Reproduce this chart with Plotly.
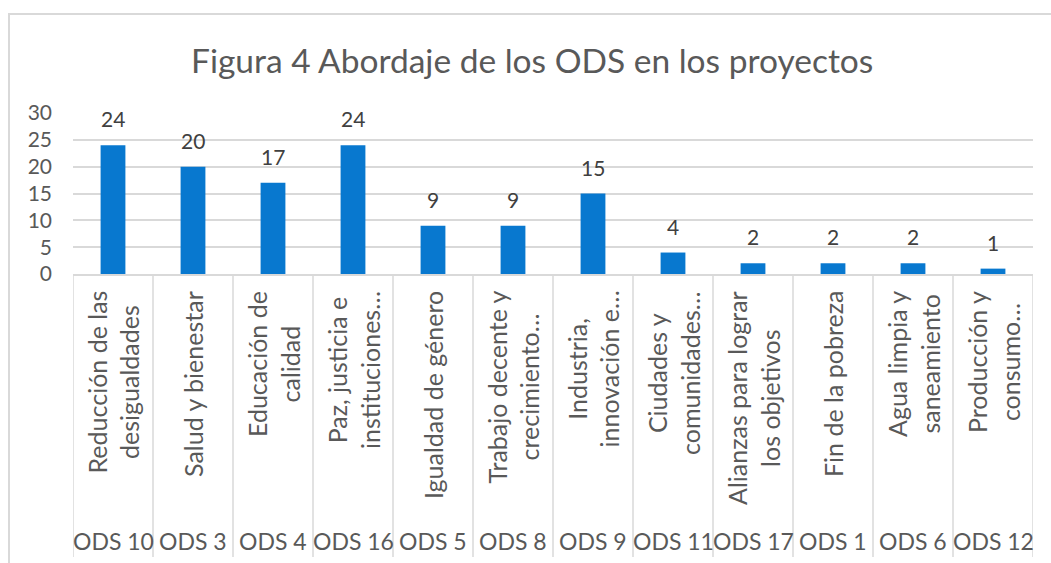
import plotly.graph_objects as go

codes = ["ODS 10", "ODS 3", "ODS 4", "ODS 16", "ODS 5", "ODS 8",
         "ODS 9", "ODS 11", "ODS 17", "ODS 1", "ODS 6", "ODS 12"]
names = ["Reducción de las<br>desigualdades", "Salud y bienestar",
         "Educación de<br>calidad", "Paz, justicia e<br>instituciones…",
         "Igualdad de género", "Trabajo decente y<br>crecimiento…",
         "Industria,<br>innovación e…", "Ciudades y<br>comunidades…",
         "Alianzas para lograr<br>los objetivos", "Fin de la pobreza",
         "Agua limpia y<br>saneamiento", "Producción y<br>consumo…"]
values = [24, 20, 17, 24, 9, 9, 15, 4, 2, 2, 2, 1]
y_ticks = [0, 5, 10, 15, 20, 25, 30]

W, H = 1051, 563
L, R, T, B = 73, 1033, 113, 274   # plot area in pixels
FONT = "Lato, Carlito, Calibri, sans-serif"
GRID = "#D9D9D9"
TXT = "#595959"

def py(pix):
    return (B - pix) / (B - T)

def px(pix):
    return (pix - L) / (R - L)

fig = go.Figure()
fig.add_trace(go.Bar(x=codes, y=values, marker=dict(color="#0878CF", line=dict(width=0)),
                     hoverinfo="x+y"))

ann = []
for c, v in zip(codes, values):
    ann.append(dict(x=c, y=v, xref="x", yref="y", text=str(v), showarrow=False,
                    yanchor="bottom", yshift=12, font=dict(family=FONT, size=21, color="#404040")))
for c, n in zip(codes, names):
    ann.append(dict(x=c, y=py(289), xref="x", yref="paper", text=n, showarrow=False,
                    textangle=-90, yanchor="top", xanchor="center", align="center",
                    font=dict(family=FONT, size=25, color=TXT)))
    ann.append(dict(x=c, y=py(541), xref="x", yref="paper", text=c, showarrow=False,
                    yanchor="middle", xanchor="center",
                    font=dict(family=FONT, size=23, color=TXT)))
ann.append(dict(x=px(532), y=py(60), xref="paper", yref="paper",
                text="Figura 4 Abordaje de los ODS en los proyectos", showarrow=False,
                xanchor="center", yanchor="middle", font=dict(family=FONT, size=33.5, color=TXT)))

shapes = []
for i in range(len(codes) + 1):
    shapes.append(dict(type="line", xref="x", yref="paper", x0=i - 0.5, x1=i - 0.5,
                       y0=0, y1=py(557), line=dict(color=GRID, width=1.5)))
shapes.append(dict(type="rect", xref="paper", yref="paper", x0=px(9), x1=px(1060),
                   y0=py(14), y1=py(575), line=dict(color=GRID, width=2), layer="below"))

fig.update_layout(
    width=W, height=H,
    margin=dict(l=L, r=W - R, t=T, b=H - B, autoexpand=False),
    paper_bgcolor="white", plot_bgcolor="white",
    showlegend=False, bargap=0.69,
    annotations=ann, shapes=shapes,
    xaxis=dict(type="category", range=[-0.5, len(codes) - 0.5], showticklabels=False,
               showgrid=False, zeroline=False, showline=True, linecolor=GRID, linewidth=1.5,
               ticks=""),
    yaxis=dict(range=[0, 30], tickvals=y_ticks, showgrid=True, gridcolor=GRID, gridwidth=1.5,
               zeroline=False, showline=False, ticks="", ticklabelstandoff=20,
               tickfont=dict(family=FONT, size=21, color=TXT)),
)

fig.write_html("out.html", config={"displayModeBar": False},
               post_script="document.body.style.margin='0';document.body.style.overflow='hidden';")
